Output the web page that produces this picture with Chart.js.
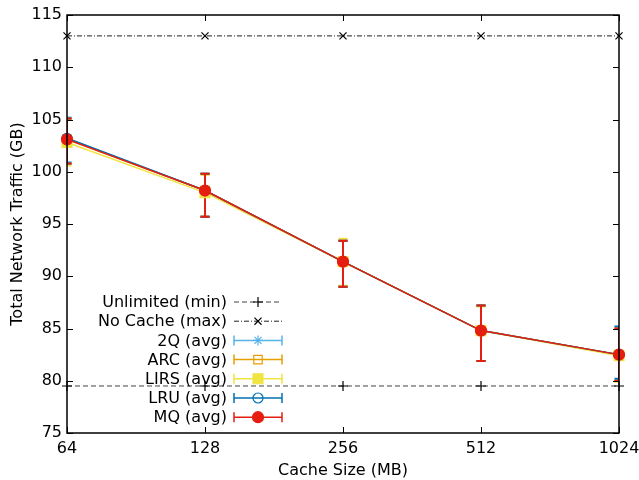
<!DOCTYPE html>
<html><head><meta charset="utf-8">
<script src="https://cdn.jsdelivr.net/npm/chart.js@4"></script>
<style>html,body{margin:0;padding:0;background:#fff}</style>
</head><body>
<canvas id="c" width="639" height="480"></canvas>
<script>
// ---- data ----
const cacheSizes = ['64', '128', '256', '512', '1024'];
const unlimitedMin = [79.5, 79.5, 79.5, 79.5, 79.5];
const noCacheMax = [113, 113, 113, 113, 113];
const q2Avg  = [103.2, 98.2, 91.4, 84.8, 82.5];
const q2Lo   = [100.9, 95.7, 89.0, 81.9, 80.0];
const q2Hi   = [105.2, 99.8, 93.4, 87.2, 85.0];
const arcAvg = [103.1, 98.2, 91.4, 84.8, 82.5];
const arcLo  = [100.8, 95.7, 89.0, 81.9, 80.0];
const arcHi  = [105.1, 99.8, 93.4, 87.2, 85.0];
const lirsAvg = [102.8, 98.0, 91.4, 84.8, 82.4];
const lirsLo  = [100.6, 95.7, 89.1, 81.9, 79.9];
const lirsHi  = [105.0, 99.7, 93.6, 87.1, 85.0];
const lruAvg = [103.2, 98.2, 91.4, 84.8, 82.5];
const lruLo  = [100.8, 95.7, 89.0, 81.9, 80.2];
const lruHi  = [105.1, 99.8, 93.4, 87.2, 85.2];
const mqAvg  = [103.1, 98.2, 91.4, 84.8, 82.5];
const mqLo   = [100.8, 95.7, 89.0, 81.9, 80.0];
const mqHi   = [105.1, 99.8, 93.4, 87.2, 85.0];
const yTicks = [75, 80, 85, 90, 95, 100, 105, 110, 115];

const FONT = '"DejaVu Sans", sans-serif';
const FS = 16;

const series = [
  {label: 'Unlimited (min)', data: unlimitedMin, color: '#000000', lineColor: '#444444', style: 'cross', r: 5, fill: false, dash: [5, 3], lw: 1, order: 7},
  {label: 'No Cache (max)', data: noCacheMax, color: '#000000', lineColor: '#222222', style: 'crossRot', r: 5, fill: false, dash: [5, 2, 1, 2], lw: 1, order: 6},
  {label: '2Q (avg)', data: q2Avg, lo: q2Lo, hi: q2Hi, color: '#56b4e9', style: 'star', r: 5, fill: false, dash: [], lw: 1.5, order: 5},
  {label: 'ARC (avg)', data: arcAvg, lo: arcLo, hi: arcHi, color: '#e69f00', style: 'rect', r: 6, fill: false, dash: [], lw: 1.5, order: 4},
  {label: 'LIRS (avg)', data: lirsAvg, lo: lirsLo, hi: lirsHi, color: '#f0e442', style: 'rect', r: 7, fill: true, dash: [], lw: 1.5, order: 3},
  {label: 'LRU (avg)', data: lruAvg, lo: lruLo, hi: lruHi, color: '#0072b2', style: 'circle', r: 5, fill: false, dash: [], lw: 1.5, order: 2},
  {label: 'MQ (avg)', data: mqAvg, lo: mqLo, hi: mqHi, color: '#e51e10', style: 'circle', r: 5.5, fill: true, dash: [], lw: 1.5, order: 1}
];

const datasets = series.map(s => ({
  label: s.label,
  data: s.data,
  borderColor: s.lineColor || s.color,
  backgroundColor: s.fill ? s.color : 'rgba(0,0,0,0)',
  pointBorderColor: s.color,
  pointBackgroundColor: s.fill ? s.color : 'rgba(0,0,0,0)',
  pointStyle: s.style,
  pointRadius: s.r,
  pointBorderWidth: 1.2,
  borderWidth: s.lw,
  borderDash: s.dash,
  tension: 0,
  fill: false,
  order: s.order,
  clip: 8
}));

function drawMarker(ctx, s, x, y) {
  ctx.save();
  ctx.strokeStyle = s.color;
  ctx.fillStyle = s.fill ? s.color : 'rgba(0,0,0,0)';
  ctx.lineWidth = 1.2;
  ctx.setLineDash([]);
  Chart.helpers.drawPoint(ctx, {pointStyle: s.style, radius: s.r, rotation: 0, borderWidth: 1.2}, x, y);
  ctx.restore();
}

const frameAndBars = {
  id: 'frameAndBars',
  beforeDatasetsDraw(chart) {
    const {ctx, chartArea: a, scales: {x, y}} = chart;
    ctx.save();
    ctx.beginPath();
    ctx.rect(a.left, a.top - 1, a.right - a.left, a.bottom - a.top + 2);
    ctx.clip();
    series.forEach(s => {
      if (!s.lo) return;
      ctx.strokeStyle = s.color;
      ctx.lineWidth = 2;
      ctx.setLineDash([]);
      s.data.forEach((v, i) => {
        const px = x.getPixelForValue(i);
        const yl = y.getPixelForValue(s.lo[i]);
        const yh = y.getPixelForValue(s.hi[i]);
        ctx.beginPath();
        ctx.moveTo(px, yl); ctx.lineTo(px, yh);
        ctx.moveTo(px - 4.5, yl); ctx.lineTo(px + 4.5, yl);
        ctx.moveTo(px - 4.5, yh); ctx.lineTo(px + 4.5, yh);
        ctx.stroke();
      });
    });
    ctx.restore();
  },
  afterDatasetsDraw(chart) {
    const {ctx, chartArea: a, scales: {x, y}} = chart;
    ctx.save();
    // legend
    ctx.font = FS + 'px ' + FONT;
    ctx.textAlign = 'right';
    ctx.textBaseline = 'middle';
    const lx = 227, sx0 = 234, sx1 = 282, y0 = 302, dy = 19.2;
    series.forEach((s, i) => {
      const ly = y0 + i * dy;
      ctx.fillStyle = '#000';
      ctx.fillText(s.label, lx, ly + 1);
      ctx.strokeStyle = s.lineColor || s.color;
      ctx.lineWidth = s.lo ? 1.5 : 1;
      ctx.setLineDash(s.dash);
      ctx.beginPath(); ctx.moveTo(sx0, ly); ctx.lineTo(sx1, ly); ctx.stroke();
      ctx.setLineDash([]);
      if (s.lo) {
        ctx.strokeStyle = s.color;
        ctx.beginPath();
        ctx.moveTo(sx0, ly - 5); ctx.lineTo(sx0, ly + 5);
        ctx.moveTo(sx1, ly - 5); ctx.lineTo(sx1, ly + 5);
        ctx.stroke();
      }
      drawMarker(ctx, s, (sx0 + sx1) / 2, ly);
    });
    // frame
    ctx.strokeStyle = '#000';
    ctx.lineWidth = 1.5;
    ctx.setLineDash([]);
    ctx.strokeRect(a.left, a.top, a.right - a.left, a.bottom - a.top);
    ctx.lineWidth = 1;
    ctx.beginPath();
    cacheSizes.forEach((c, i) => {
      const px = Math.round(x.getPixelForValue(i)) + 0.5;
      ctx.moveTo(px, a.bottom); ctx.lineTo(px, a.bottom - 6);
      ctx.moveTo(px, a.top); ctx.lineTo(px, a.top + 6);
    });
    yTicks.forEach(v => {
      const py = Math.round(y.getPixelForValue(v)) + 0.5;
      ctx.moveTo(a.left, py); ctx.lineTo(a.left + 6, py);
      ctx.moveTo(a.right, py); ctx.lineTo(a.right - 6, py);
    });
    ctx.stroke();
    ctx.restore();
  }
};

new Chart(document.getElementById('c'), {
  type: 'line',
  data: {labels: cacheSizes, datasets},
  options: {
    responsive: false,
    animation: false,
    layout: {padding: {left: 0, right: 20, top: 15, bottom: 0}},
    plugins: {legend: {display: false}, tooltip: {enabled: false}},
    scales: {
      x: {
        type: 'category',
        offset: false,
        grid: {display: false, drawTicks: false},
        border: {display: false},
        ticks: {color: '#000', font: {family: FONT, size: FS}, padding: 6, maxRotation: 0, autoSkip: false},
        title: {display: true, text: 'Cache Size (MB)', color: '#000', font: {family: FONT, size: FS}, padding: {top: 0, bottom: 0}},
        afterFit(s) { s.height = 47; s.paddingLeft = 0; s.paddingRight = 0; }
      },
      y: {
        min: 75, max: 115,
        afterBuildTicks(s) { s.ticks = yTicks.map(v => ({value: v})); },
        grid: {display: false, drawTicks: false},
        border: {display: false},
        ticks: {color: '#000', font: {family: FONT, size: FS}, padding: 5},
        title: {display: true, text: 'Total Network Traffic (GB)', color: '#000', font: {family: FONT, size: FS}, padding: {top: 8, bottom: 0}},
        afterFit(s) { s.width = 67; s.paddingTop = 0; s.paddingBottom = 0; }
      }
    }
  },
  plugins: [frameAndBars]
});
</script>
</body></html>
